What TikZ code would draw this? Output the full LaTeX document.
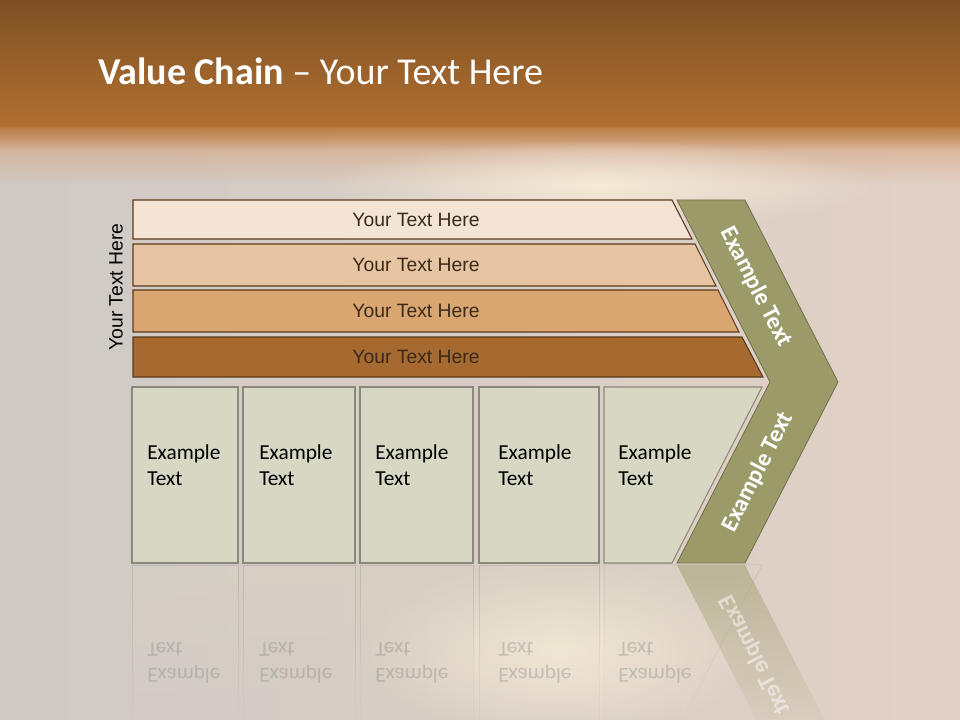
\documentclass[tikz,border=0pt]{standalone}
\usepackage{fontspec}
\setmainfont{Carlito}
\newfontfamily\arialfont{Liberation Sans}
\usetikzlibrary{fadings}

\tikzfading[name=softglow, inner color=transparent!0, outer color=transparent!100]

\definecolor{topdark}{HTML}{7D5024}
\definecolor{toplight}{HTML}{B27031}
\definecolor{bandpeach}{HTML}{D6A47C}
\definecolor{bgleft}{HTML}{CFCAC5}
\definecolor{bgmid}{HTML}{EAE0D4}
\definecolor{bgright}{HTML}{E2D1C6}
\definecolor{glow}{HTML}{F6EAD8}
\definecolor{barone}{HTML}{F3E4D6}
\definecolor{bartwo}{HTML}{E7C5A2}
\definecolor{barthree}{HTML}{D9A571}
\definecolor{barfour}{HTML}{A66A30}
\definecolor{barline}{HTML}{5B3A1C}
\definecolor{bartext}{HTML}{3B2A1A}
\definecolor{boxfill}{HTML}{D8D7C3}
\definecolor{boxline}{HTML}{8A887C}
\definecolor{chevfill}{HTML}{9B9A69}
\definecolor{chevline}{HTML}{6F6E4A}

\begin{document}
\begin{tikzpicture}[x=0.75pt, y=-0.75pt,
    bar/.style={draw=barline, line width=0.8pt},
    bartxt/.style={font=\arialfont\fontsize{14.5}{16}\selectfont, text=bartext, inner sep=0pt},
    box/.style={draw=boxline, fill=boxfill, line width=0.8pt},
    boxtxt/.style={font=\fontsize{16}{19.5}\selectfont, align=left, anchor=west, inner sep=0pt},
    chev/.style={draw=chevline, fill=chevfill, line width=0.6pt},
    chevtxt/.style={font=\bfseries\fontsize{18}{20}\selectfont, text=white, inner sep=0pt},
    refl/.style={draw=boxline, fill=boxfill, opacity=0.3, path fading=south},
    refltxt/.style={boxtxt, text=gray, opacity=0.35}]

\useasboundingbox (0,0) rectangle (960,720);
\clip (0,0) rectangle (960,720);

%% === sfondo ===
\fill[left color=bgleft, middle color=bgmid, right color=bgright] (0,120) rectangle (960,720);
\fill[bandpeach, path fading=south] (0,120) rectangle (960,185);
\fill[toplight, path fading=south] (0,120) rectangle (960,150);
\fill[top color=topdark, bottom color=toplight] (0,0) rectangle (960,127);
\fill[glow, path fading=softglow] (600,185) ellipse (280 and 45);
\fill[glow, path fading=softglow] (560,650) ellipse (200 and 90);

%% titolo
\node[font=\fontsize{28.5}{34}\selectfont, text=white, anchor=base west, inner sep=0pt]
    (title) at (98,85) {\textbf{Value Chain} – Your Text Here};

%% === barre in alto ===
\foreach \n/\t/\b/\xt/\xb/\col in {1/200/239/672/692/barone, 2/244/286/695/716/bartwo,
        3/290/332/718/739/barthree, 4/337/377/742/763/barfour} {
    \fill[bar, fill=\col] (133,\t) -- (\xt,\t) -- (\xb,\b) -- (133,\b) -- cycle;
    \node[bartxt] (bar\n) at (416,{(\t+\b)/2}) {Your Text Here};
}

\node[font=\arialfont\fontsize{14.5}{16}\selectfont, rotate=90, inner sep=0pt]
    (side) at (116,287) {Your Text Here};

%% === caselle in basso (+ riflesso) ===
\foreach \n/\l/\r/\tx in {1/132/238/147, 2/243/355/259, 3/360/473/375, 4/479/599/498} {
    \draw[box] (\l,387) rectangle (\r,563);
    \node[boxtxt] (box\n) at (\tx,465) {Example\\Text};
    \draw[refl] (\l,565) rectangle (\r,740);
    \node[refltxt, yscale=-1] (refl\n) at (\tx,663) {Example\\Text};
}

\draw[box] (604,387) -- (762,387) -- (672,563) -- (604,563) -- cycle;
\node[boxtxt] (box5) at (618,465) {Example\\Text};
\draw[refl] (604,565) -- (762,565) -- (672,740) -- (604,740) -- cycle;
\node[refltxt, yscale=-1] (refl5) at (618,663) {Example\\Text};

%% === freccia (chevron) ===
\fill[chev] (677,200) -- (745,200) -- (838,382) -- (745,563) -- (677,563) -- (770,382) -- cycle;
\node[chevtxt, rotate=-63] (armup) at (756,287) {Example Text};
\node[chevtxt, rotate=63] (armdown) at (758,472) {Example Text};

%% riflesso del braccio inferiore
\fill[chevfill, opacity=0.5, path fading=south] (677,565) -- (745,565) -- (838,746) -- (770,746) -- cycle;
\node[chevtxt, rotate=-63, yscale=-1, opacity=0.5] (armrefl) at (755,655) {Example Text};

\end{tikzpicture}
\end{document}
